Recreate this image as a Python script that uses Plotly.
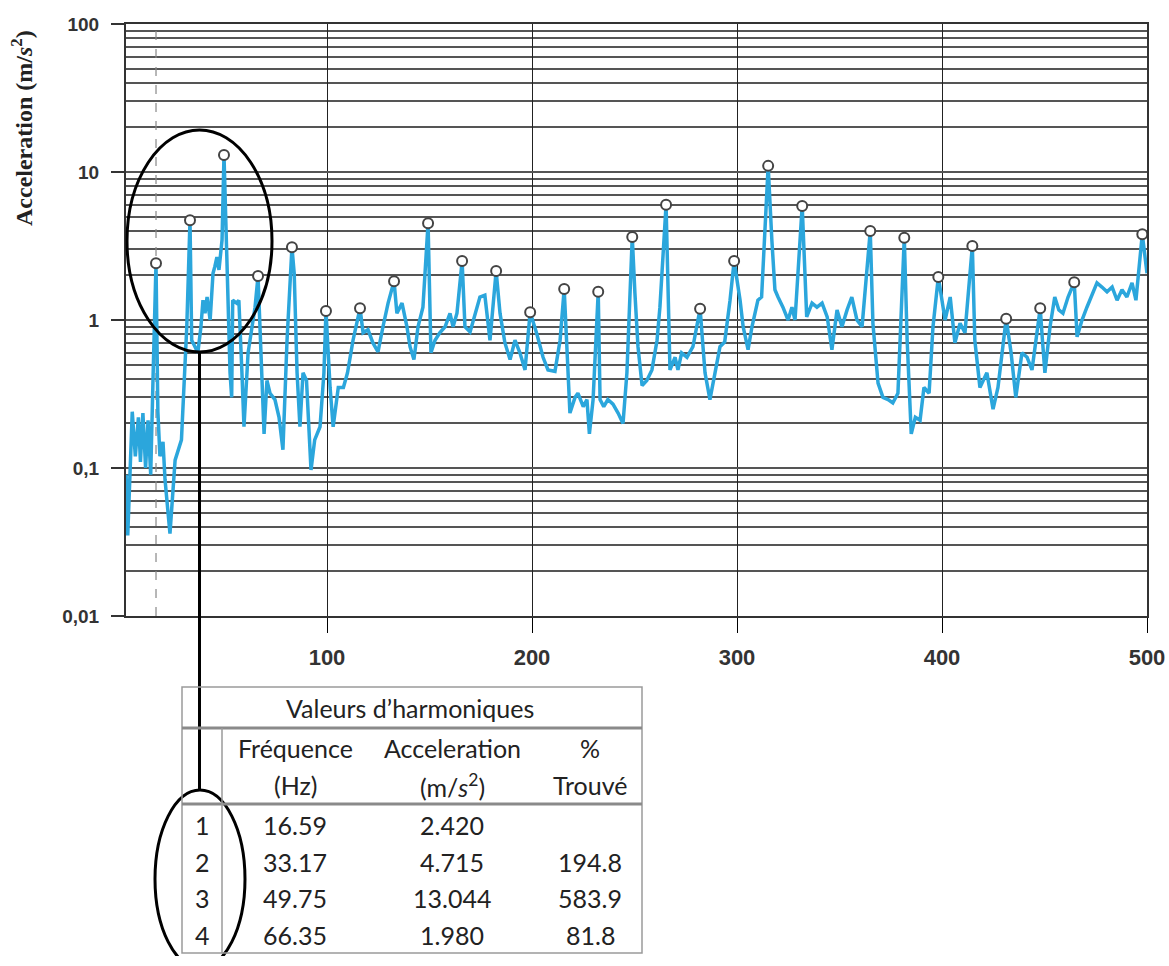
import plotly.graph_objects as go

# ---- spectrum data (frequency in Hz, acceleration in m/s^2) ----
freq = [2.0, 2.8, 5.0, 6.5, 8.0, 9.0, 10.2, 11.5, 12.7, 14.0, 15.3, 16.59,
        17.5, 18.5, 20.0, 21.0, 23.4, 25.9, 29.0, 30.7, 31.6, 33.17,
        34.0, 35.6, 37.0, 38.5, 39.5, 40.5, 41.5, 43.0, 44.4, 45.3, 46.3, 47.3, 48.8, 49.75,
        51.0, 52.7, 53.5, 54.0, 55.9, 57.0, 58.5, 59.5, 61.5, 63.4, 64.9, 66.35,
        68.3, 69.3, 70.7, 72.2, 74.6, 76.6, 78.5, 80.5, 82.9,
        84.0, 85.4, 86.8, 88.3, 90.0, 92.2, 94.0, 96.6, 98.5, 99.5,
        101.5, 103.0, 105.5, 108.0, 110.0, 112.7, 115.0, 116.1,
        117.6, 120.0, 122.4, 124.9, 127.3, 129.8, 132.7,
        134.1, 136.6, 139.0, 140.5, 142.4, 144.4, 146.8, 149.3,
        150.7, 152.7, 155.0, 157.6, 160.0, 161.5, 163.4, 165.9,
        167.3, 169.8, 172.2, 174.6, 177.0, 179.5, 182.5,
        184.4, 186.8, 189.3, 191.7, 194.1, 196.6, 199.1,
        202.4, 205.4, 207.8, 211.2, 213.7, 215.7,
        218.5, 221.0, 222.4, 225.0, 226.8, 228.0, 229.8, 232.3,
        233.2, 235.0, 237.0, 239.5, 242.0, 244.4, 246.3, 248.9,
        250.2, 251.7, 253.7, 256.0, 258.5, 261.0, 262.4, 265.4,
        267.3, 269.8, 271.2, 273.0, 275.6, 278.5, 282.0,
        284.4, 286.8, 289.3, 291.7, 294.0, 296.6, 298.6,
        301.5, 303.0, 305.4, 307.3, 308.8, 310.2, 312.0, 315.2,
        317.0, 318.5, 320.0, 322.4, 324.9, 326.8, 328.3, 331.8,
        334.0, 336.6, 339.0, 341.5, 344.0, 346.3, 348.8, 351.2, 353.7, 356.0, 358.5, 361.0, 365.0,
        366.3, 368.8, 371.2, 373.7, 376.0, 378.5, 381.6,
        383.0, 385.0, 387.0, 389.3, 391.2, 393.7, 395.6, 398.2,
        401.5, 404.0, 406.3, 408.8, 411.2, 414.8,
        416.0, 418.5, 421.9, 424.9, 427.3, 431.3,
        433.7, 436.0, 439.0, 441.5, 443.9, 447.9,
        449.0, 450.2, 452.7, 455.0, 457.0, 459.0, 461.5, 464.5,
        465.9, 468.3, 470.7, 473.0, 475.6, 478.0, 480.5, 483.0, 485.4, 487.8, 490.2, 492.7, 494.6, 497.7,
        500.0]

accel = [0.09, 0.035, 0.24, 0.12, 0.22, 0.11, 0.235, 0.10, 0.21, 0.09, 0.5, 2.42,
         0.24, 0.12, 0.15, 0.083, 0.036, 0.113, 0.155, 0.44, 0.9, 4.715,
         0.73, 0.66, 0.6, 0.9, 1.36, 1.11, 1.43, 1.0, 2.07, 2.3, 2.66, 2.18, 3.47, 13.044,
         3.47, 0.44, 0.30, 1.36, 1.3, 1.36, 0.44, 0.19, 0.6, 0.9, 1.22, 1.98,
         0.44, 0.17, 0.39, 0.32, 0.29, 0.22, 0.133, 0.73, 3.1,
         2.07, 0.44, 0.19, 0.44, 0.39, 0.097, 0.155, 0.19, 0.44, 1.15,
         0.35, 0.19, 0.35, 0.35, 0.44, 0.73, 1.05, 1.2,
         0.82, 0.86, 0.7, 0.61, 0.9, 1.3, 1.83,
         1.11, 1.3, 0.9, 0.66, 0.54, 0.9, 1.22, 4.5,
         0.6, 0.73, 0.82, 0.9, 1.11, 0.9, 1.11, 2.5,
         0.9, 0.83, 1.11, 1.43, 1.47, 0.73, 2.14,
         1.11, 0.7, 0.54, 0.73, 0.6, 0.46, 1.13,
         0.8, 0.56, 0.46, 0.45, 0.73, 1.62,
         0.235, 0.30, 0.32, 0.26, 0.29, 0.17, 0.29, 1.55,
         0.29, 0.26, 0.29, 0.27, 0.235, 0.2, 0.44, 3.64,
         1.52, 0.66, 0.36, 0.39, 0.46, 0.73, 1.22, 6.0,
         0.46, 0.56, 0.46, 0.6, 0.56, 0.66, 1.19,
         0.44, 0.29, 0.44, 0.66, 0.71, 1.36, 2.5,
         1.36, 0.9, 0.63, 0.9, 1.11, 1.36, 1.43, 11.0,
         3.47, 1.6, 1.43, 1.22, 1.0, 1.22, 1.0, 5.9,
         1.05, 1.3, 1.22, 1.3, 1.05, 0.63, 1.17, 0.9, 1.17, 1.43, 1.0, 0.9, 4.0,
         0.95, 0.375, 0.30, 0.29, 0.275, 0.32, 3.6,
         0.73, 0.17, 0.22, 0.21, 0.35, 0.32, 0.9, 1.95,
         1.0, 1.43, 0.7, 0.95, 0.82, 3.16,
         0.73, 0.35, 0.44, 0.25, 0.35, 1.02,
         0.6, 0.30, 0.6, 0.56, 0.46, 1.2,
         0.73, 0.44, 0.9, 1.43, 1.17, 1.11, 1.43, 1.8,
         0.77, 1.0, 1.22, 1.47, 1.78, 1.67, 1.55, 1.67, 1.36, 1.6, 1.43, 1.78, 1.36, 3.8,
         2.07]

# ---- detected harmonic peaks ----
harm_freq = [16.59, 33.17, 49.75, 66.35, 82.9, 99.5, 116.1, 132.7, 149.3, 165.9,
             182.5, 199.1, 215.7, 232.3, 248.9, 265.4, 282.0, 298.6, 315.2, 331.8,
             365.0, 381.6, 398.2, 414.8, 431.3, 447.9, 464.5, 497.7]
harm_acc = [2.42, 4.715, 13.044, 1.98, 3.1, 1.15, 1.2, 1.83, 4.5, 2.5,
            2.14, 1.13, 1.62, 1.55, 3.64, 6.0, 1.19, 2.5, 11.0, 5.9,
            4.0, 3.6, 1.95, 3.16, 1.02, 1.2, 1.8, 3.8]

# ---- axis ticks ----
x_ticks = [100, 200, 300, 400, 500]
y_ticks = [0.01, 0.1, 1, 10, 100]
y_tick_text = ["0,01", "0,1", "1", "10", "100"]

# ---- table contents ----
table_title = "Valeurs d\u2019harmoniques"
table_idx = ["1", "2", "3", "4"]
table_freq = ["16.59", "33.17", "49.75", "66.35"]
table_acc = ["2.420", "4.715", "13.044", "1.980"]
table_pct = ["", "194.8", "583.9", "81.8"]

# figure size (kept a little shorter than the window so the page never scrolls)
W, H = 1169, 956


def px(x):
    """x in pixels -> paper fraction"""
    return x / W


def py(y):
    """y in pixels from the top -> paper fraction"""
    return 1 - y / H


LINE_BLUE = "#2ba6dc"
GRID = "#555555"
TXT = "#333333"

fig = go.Figure()

fig.add_trace(go.Scatter(
    x=freq, y=accel, mode="lines",
    line=dict(color=LINE_BLUE, width=3.5),
    hoverinfo="skip", showlegend=False,
))
fig.add_trace(go.Scatter(
    x=harm_freq, y=harm_acc, mode="markers",
    marker=dict(symbol="circle", size=10, color="white",
                line=dict(color="#444444", width=2)),
    showlegend=False,
))

shapes = []
# dashed line at the fundamental
shapes.append(dict(type="line", xref="x", yref="y", x0=harm_freq[0], x1=harm_freq[0],
                   y0=0.01, y1=100, layer="between",
                   line=dict(color="#888888", width=1.2, dash="dash")))
# ellipse around the first harmonics and callout to the table
shapes.append(dict(type="circle", xref="paper", yref="paper",
                   x0=px(127), x1=px(272), y0=py(352), y1=py(130),
                   line=dict(color="black", width=3)))
shapes.append(dict(type="line", xref="paper", yref="paper",
                   x0=px(199.5), x1=px(199.5), y0=py(352), y1=py(790),
                   line=dict(color="black", width=3)))
shapes.append(dict(type="circle", xref="paper", yref="paper",
                   x0=px(155), x1=px(245), y0=py(968), y1=py(790),
                   line=dict(color="black", width=3)))

# table frame
T_L, T_R, T_T, T_B = 182, 642, 687, 953
SEP1, SEP2, COLDIV = 728, 804, 222
tab_line = dict(color="#9a9a9a", width=1.5)
shapes.append(dict(type="rect", xref="paper", yref="paper",
                   x0=px(T_L), x1=px(T_R), y0=py(T_B), y1=py(T_T), line=tab_line))
for yy in (SEP1, SEP2):
    shapes.append(dict(type="line", xref="paper", yref="paper",
                       x0=px(T_L), x1=px(T_R), y0=py(yy), y1=py(yy),
                       line=dict(color="#8a8a8a", width=3)))
shapes.append(dict(type="line", xref="paper", yref="paper",
                   x0=px(COLDIV), x1=px(COLDIV), y0=py(T_B), y1=py(SEP1), line=tab_line))

annotations = []
# y-axis title
annotations.append(dict(
    xref="paper", yref="paper", x=px(22), y=py(128), showarrow=False, textangle=-90,
    text="<b>Acceleration (m/<i>s</i><sup>2</sup>)</b>",
    font=dict(family="Liberation Serif", size=24, color="#222222"),
    xanchor="center", yanchor="middle",
))

tfont = dict(family="Lato", size=25, color="#222222")
col_x = [202, 295, 452, 590]


def cell(x, y, text):
    if not text:
        return
    annotations.append(dict(xref="paper", yref="paper", x=px(x), y=py(y), text=text,
                            showarrow=False, font=tfont, xanchor="center", yanchor="middle"))


cell(410, 708, table_title)
cell(col_x[1], 748, "Fréquence")
cell(col_x[1], 785, "(Hz)")
cell(col_x[2], 748, "Acceleration")
cell(col_x[2], 785, "(m/<i>s</i><sup>2</sup>)")
cell(col_x[3], 748, "%")
cell(col_x[3], 785, "Trouvé")
row_y = [825, 862, 898, 935]
for i, yy in enumerate(row_y):
    cell(col_x[0], yy, table_idx[i])
    cell(col_x[1], yy, table_freq[i])
    cell(col_x[2], yy, table_acc[i])
    cell(col_x[3], yy, table_pct[i])

fig.update_layout(
    width=W, height=H,
    margin=dict(l=0, r=0, t=0, b=0),
    paper_bgcolor="white", plot_bgcolor="white",
    shapes=shapes, annotations=annotations,
    showlegend=False,
    xaxis=dict(
        domain=[px(126), px(1147)], range=[1.95, 500],
        tickmode="array", tickvals=x_ticks,
        ticks="outside", ticklen=15, tickcolor="black", tickwidth=1,
        showgrid=True, gridcolor="#222222", gridwidth=1,
        showline=True, linecolor="#333333", linewidth=2, mirror=True,
        zeroline=False, automargin=False,
        tickfont=dict(family="Liberation Sans", size=22, color=TXT, weight="bold"),
        ticklabelstandoff=6,
    ),
    yaxis=dict(
        domain=[py(616), py(24)], type="log", range=[-2, 2],
        tickmode="array", tickvals=y_ticks, ticktext=y_tick_text,
        ticks="outside", ticklen=13, tickcolor="#333333", tickwidth=1.5,
        showgrid=True, gridcolor=GRID, gridwidth=1.6,
        minor=dict(dtick="D1", showgrid=True, gridcolor=GRID, gridwidth=1.6, ticks=""),
        showline=True, linecolor="#333333", linewidth=2, mirror=True,
        zeroline=False, automargin=False,
        tickfont=dict(family="Liberation Sans", size=19, color=TXT, weight="bold"),
        ticklabelstandoff=8,
    ),
)

fig.write_html("out.html")
